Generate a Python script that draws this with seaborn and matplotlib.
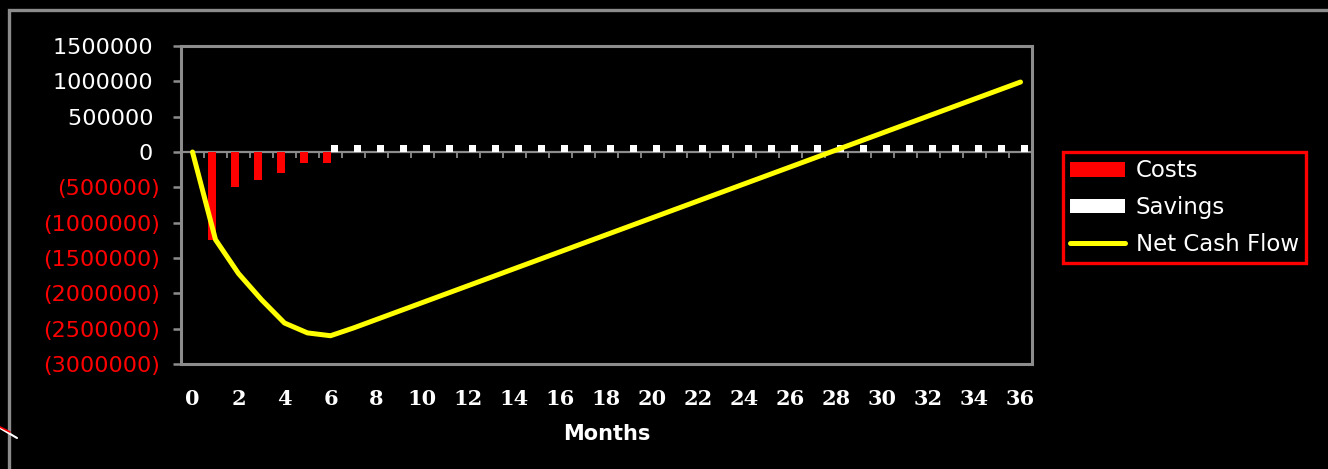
import numpy as np
import pandas as pd
import matplotlib
matplotlib.use("Agg")
import matplotlib.pyplot as plt
import matplotlib.patches as mpatches
import matplotlib.lines as mlines
import seaborn as sns

# ---- data ----
months = list(range(37))
costs = [0, -1250000, -500000, -400000, -300000, -150000, -150000] + [0] * 30
savings = [0, 0, 0, 0, 0, 0] + [100000] * 31
net_cash_flow = [0, -1240000, -1720000, -2090000, -2420000, -2560000, -2600000,
                 -2490000, -2370000, -2250000, -2130000, -2010000, -1890000,
                 -1770000, -1650000, -1530000, -1410000, -1290000, -1170000,
                 -1050000, -930000, -810000, -690000, -570000, -450000,
                 -330000, -210000, -90000, 30000, 150000, 270000, 390000,
                 510000, 630000, 750000, 870000, 990000]
y_ticks = [1500000, 1000000, 500000, 0, -500000, -1000000, -1500000,
           -2000000, -2500000, -3000000]
series_names = ["Costs", "Savings", "Net Cash Flow"]
x_label = "Months"

# ---- style ----
sns.set_style("dark")
plt.rcParams["font.family"] = ["DejaVu Sans"]
GRAY = "#8c8c8c"

bars = pd.DataFrame({
    "Month": months * 2,
    "Value": costs + savings,
    "Series": [series_names[0]] * len(months) + [series_names[1]] * len(months),
})

W, H = 1328, 469
fig = plt.figure(figsize=(W / 100, H / 100), dpi=100, facecolor="black")
ax = fig.add_axes([181 / W, 1 - 364 / H, (1032 - 181) / W, (364 - 46) / H])
ax.set_facecolor("black")

sns.barplot(data=bars, x="Month", y="Value", hue="Series",
            hue_order=series_names[:2],
            palette={series_names[0]: "#ff0000", series_names[1]: "#ffffff"},
            saturation=1, width=0.62, linewidth=0, errorbar=None, ax=ax)
sns.lineplot(x=months, y=net_cash_flow, color="#ffff00", linewidth=3.6,
             label=series_names[2], ax=ax)

ax.set_xlim(-0.5, 36.5)
ax.set_ylim(-3000000, 1500000)
ax.grid(False)

# y ticks & labels
ax.set_yticks(y_ticks)
ylabels = [f"{v} " if v >= 0 else f"({-v})" for v in y_ticks]
ax.set_yticklabels(ylabels)
for lab, v in zip(ax.get_yticklabels(), y_ticks):
    lab.set_color("white" if v >= 0 else "#ff0000")
ax.tick_params(axis="y", direction="out", length=6, width=1.8, color=GRAY,
               pad=9, labelsize=16, left=True)

# x ticks & labels
xt = months[::2]
ax.set_xticks(xt)
ax.set_xticklabels([str(m) for m in xt], fontfamily="DejaVu Serif",
                   fontweight="bold", color="white", fontsize=15)
ax.tick_params(axis="x", length=0, pad=18)
ax.set_xlabel(x_label, color="white", fontsize=15, fontweight="bold", labelpad=11)
ax.set_ylabel("")

for sp in ax.spines.values():
    sp.set_visible(True)
    sp.set_color(GRAY)
    sp.set_linewidth(2.2)

# zero axis with category-boundary ticks
zero_pos = (0 - (-3000000)) / (1500000 - (-3000000))
sec = ax.secondary_xaxis(zero_pos)
sec.set_alignment("bottom")
sec.set_xticks([m + 0.5 for m in months[:-1]])
sec.tick_params(axis="x", direction="out", length=4, width=1.3, color=GRAY,
                labelbottom=False, labeltop=False)
for name, sp in sec.spines.items():
    sp.set_color(GRAY)
    sp.set_linewidth(1.6)

# legend
h, l = ax.get_legend_handles_labels()
leg = ax.legend(h, l, loc="upper left",
                bbox_to_anchor=(1063 / W, 1 - 152 / H),
                bbox_transform=fig.transFigure, borderaxespad=0,
                frameon=True, fancybox=False, framealpha=1,
                facecolor="black", edgecolor="#ff0000", fontsize=16.5,
                handlelength=2.4, handleheight=0.6, labelspacing=0.6,
                handletextpad=0.45, borderpad=0.32)
leg.get_frame().set_linewidth(2.4)
for t in leg.get_texts():
    t.set_color("white")

# outer border of the chart
fig.add_artist(mpatches.Rectangle((8.5 / W, -0.1), 1.2, 1.1 - 10 / H,
                                  transform=fig.transFigure, fill=False,
                                  edgecolor=GRAY, linewidth=2.4))
# small decoration at bottom-left
fig.add_artist(mlines.Line2D([0 / W, 17 / W], [1 - 428 / H, 1 - 438 / H],
                             transform=fig.transFigure, color="white", lw=1.5))
fig.add_artist(mlines.Line2D([0 / W, 10 / W], [1 - 427 / H, 1 - 432 / H],
                             transform=fig.transFigure, color="#ff0000", lw=1.2))

fig.savefig("out.png", dpi=100, facecolor="black")
